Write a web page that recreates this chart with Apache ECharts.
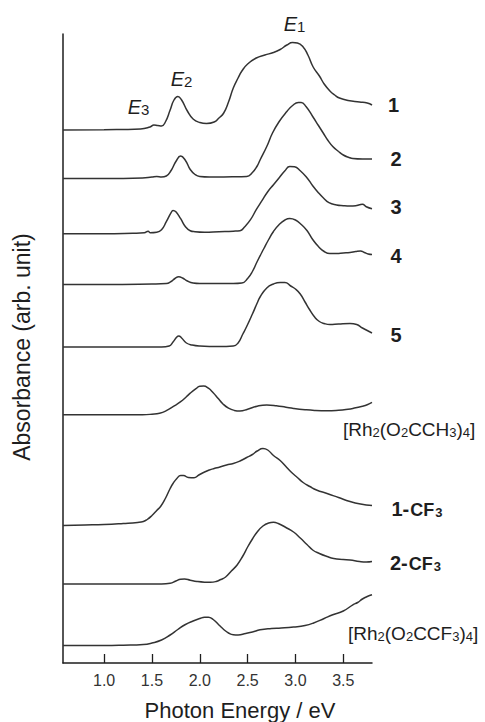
<!DOCTYPE html>
<html><head><meta charset="utf-8">
<script src="https://cdn.jsdelivr.net/npm/echarts@6/dist/echarts.min.js"></script>
<style>html,body{margin:0;padding:0;background:#fff}#c{width:485px;height:722px}</style>
</head><body><div id="c"></div>
<script>
// ---- data (energy in eV, absorbance in arbitrary units) ----
const energyTicks = [1.0, 1.5, 2.0, 2.5, 3.0, 3.5];
const spectrumNames = ['1', '2', '3', '4', '5', '[Rh2(O2CCH3)4]', '1-CF3', '2-CF3', '[Rh2(O2CCF3)4]'];
const spectrumOffsets = [533, 484.5, 429.3, 378.5, 316, 248.3, 137.5, 79, 17.5];

const s1 = [[0.57,0],[1.0,0.3],[1.38,1],[1.48,3],[1.52,5],[1.56,4.5],[1.6,4],[1.64,8],[1.69,20],[1.73,30],[1.77,33.5],[1.81,30],[1.87,19],[1.93,11],[2.0,7.5],[2.07,6.5],[2.15,8],[2.2,12],[2.25,17],[2.3,28],[2.35,42],[2.4,52],[2.44,59],[2.5,66],[2.59,72],[2.68,75],[2.77,77.5],[2.84,80.5],[2.91,85],[2.97,87.5],[3.02,87],[3.08,83],[3.13,75],[3.185,63],[3.25,54],[3.3,46],[3.36,39],[3.41,35],[3.46,32],[3.55,29.5],[3.67,28],[3.75,27],[3.8,25]];
const s2 = [[0.57,0],[1.0,0],[1.4,0.5],[1.5,1.5],[1.55,2],[1.6,1.5],[1.65,2.5],[1.7,8],[1.75,17],[1.8,22.5],[1.85,18],[1.9,9],[1.95,4],[2.0,2],[2.1,1.5],[2.25,1.5],[2.4,1.8],[2.49,2],[2.55,6],[2.6,12.5],[2.63,18.5],[2.7,32],[2.76,45.5],[2.83,57],[2.91,67],[2.97,73],[3.03,76],[3.06,76],[3.11,72],[3.18,62],[3.24,53],[3.29,45.5],[3.34,38],[3.39,32],[3.45,27],[3.5,23.5],[3.56,21],[3.6,20],[3.7,19.5],[3.8,19.5]];
const s3 = [[0.57,0],[1.0,0],[1.3,0.5],[1.42,1],[1.46,2.5],[1.48,1],[1.55,1.5],[1.6,4],[1.65,12],[1.7,21],[1.72,23.3],[1.75,22],[1.8,15],[1.85,7],[1.9,3],[1.95,2],[2.05,1.5],[2.2,2],[2.35,2.5],[2.42,3],[2.47,7],[2.53,14],[2.59,24],[2.65,33],[2.71,42],[2.77,49],[2.83,56],[2.89,63],[2.94,67.3],[2.99,67],[3.05,63],[3.12,56],[3.18,48],[3.24,41],[3.29,36],[3.35,31],[3.43,28.7],[3.5,28],[3.57,27.7],[3.63,28],[3.67,29],[3.7,29.5],[3.74,27],[3.8,25]];
const s4 = [[0.57,0],[1.0,0],[1.5,0.5],[1.65,1],[1.7,3],[1.74,6],[1.78,7.7],[1.82,6.5],[1.87,3.5],[1.93,1.5],[2.0,1],[2.2,1],[2.35,1],[2.44,1.5],[2.5,6],[2.55,13],[2.6,23],[2.67,36],[2.72,45],[2.77,53],[2.83,60],[2.89,64.5],[2.94,66],[3.0,64.5],[3.06,60],[3.12,54],[3.18,45],[3.24,38],[3.3,33],[3.36,31],[3.43,31],[3.5,31.5],[3.57,32],[3.63,33],[3.68,33.5],[3.72,32],[3.76,30.5],[3.8,30]];
const s5 = [[0.57,0],[1.0,0],[1.4,0],[1.6,0],[1.68,1],[1.72,5],[1.76,10],[1.78,11],[1.81,9],[1.86,4],[1.92,2],[2.0,1],[2.2,0.5],[2.35,1],[2.4,4],[2.45,13],[2.49,20.5],[2.55,33],[2.6,44],[2.63,50],[2.7,59],[2.77,63],[2.84,64.5],[2.89,64.5],[2.95,61],[3.0,58],[3.05,53],[3.1,45],[3.15,37],[3.2,30],[3.25,25.5],[3.3,23.5],[3.36,22.5],[3.45,23],[3.57,23.5],[3.64,22.5],[3.7,19],[3.75,16.5],[3.8,14]];
const s6 = [[0.57,0],[1.0,0],[1.4,0],[1.5,0.5],[1.58,1.5],[1.65,4],[1.72,8],[1.8,13],[1.86,18],[1.9,21.5],[1.96,26],[2.0,28.5],[2.04,28.7],[2.09,26.5],[2.14,22],[2.19,16.5],[2.24,11],[2.3,6.5],[2.36,4.3],[2.42,3.7],[2.5,5.5],[2.6,8.5],[2.7,9.7],[2.8,9],[2.9,7.5],[2.98,6.3],[3.1,5],[3.2,4.3],[3.33,4],[3.45,4.5],[3.55,5.5],[3.6,6.3],[3.7,8.5],[3.75,10],[3.8,12.3]];
const s7 = [[0.57,0],[0.8,0.5],[1.0,1],[1.2,2],[1.35,3],[1.41,4],[1.45,6],[1.5,10],[1.55,15],[1.59,19],[1.64,27],[1.69,37],[1.72,42],[1.76,47],[1.8,50],[1.83,50],[1.88,48],[1.94,47.8],[1.99,50.5],[2.05,53.5],[2.1,55.5],[2.15,57],[2.21,58.5],[2.28,60.5],[2.35,62],[2.42,64.5],[2.49,68],[2.55,71],[2.6,74.5],[2.66,77],[2.71,75.5],[2.77,70],[2.84,65],[2.9,59],[2.96,53],[3.02,48],[3.08,43],[3.15,39],[3.22,35.5],[3.33,32],[3.45,28],[3.57,24],[3.68,21.5],[3.8,20]];
const s8 = [[0.57,0],[1.0,0],[1.6,0],[1.69,0.7],[1.75,3],[1.8,4.8],[1.84,5],[1.9,3.8],[1.97,2.5],[2.05,1.8],[2.11,1.7],[2.17,2.5],[2.22,4.5],[2.27,7],[2.33,13],[2.39,19],[2.45,28],[2.5,37],[2.55,45],[2.6,52],[2.66,58],[2.72,61],[2.77,61.7],[2.82,60.5],[2.9,56.5],[2.98,52],[3.05,46],[3.12,39.5],[3.18,34],[3.25,30.5],[3.33,27.5],[3.4,25.5],[3.5,24.5],[3.57,24],[3.67,22.5],[3.74,22],[3.8,22.5]];
const s9 = [[0.57,0],[1.0,0],[1.2,0.3],[1.41,1],[1.5,2.5],[1.6,5.5],[1.69,10.5],[1.77,16],[1.85,21],[1.93,24.5],[2.0,27],[2.05,28.3],[2.09,28.3],[2.14,26],[2.2,20.5],[2.25,16],[2.3,12.5],[2.35,10.7],[2.4,10.5],[2.48,12],[2.55,13.5],[2.63,15.7],[2.75,17],[2.85,17.5],[2.98,18.5],[3.1,20],[3.19,22.5],[3.3,27],[3.39,30.7],[3.5,34.5],[3.6,40.7],[3.65,43],[3.7,46.5],[3.75,49],[3.8,50.7]];

const peakNames = ['E1', 'E2', 'E3'];
const peakEnergies = [2.99, 1.81, 1.36];
const peakHeights = [640, 585, 557];

// ---- layout / style ----
const spectra = [s1, s2, s3, s4, s5, s6, s7, s8, s9];
const labelShift = [[16,-0.7],[18.5,-1],[18.5,-3],[18.5,0],[18.5,1],[-29,26],[19.5,2.8],[18,0.3],[-24,36.7]];
const FONT = 'Liberation Sans, Arial, sans-serif';
const INK = '#1e1e1e';

function richName(name) {
  if (name[0] === '[') {
    return name.match(/\d+|\D+/g).map(t => /\d/.test(t) ? '{u|' + t + '}' : '{r|' + t + '}').join('');
  }
  const m = name.match(/^(\d+-?)(.*)$/);
  let out = '{b|' + m[1] + '}';
  if (m[2]) out += m[2].match(/\d+|\D+/g).map(t => /\d/.test(t) ? '{s|' + t + '}' : '{m|' + t + '}').join('');
  return out;
}
const nameRich = {
  b: {fontFamily: FONT, fontSize: 20, fontWeight: 'bold', fill: INK, color: INK, lineHeight: 22, verticalAlign: 'bottom'},
  m: {fontFamily: FONT, fontSize: 18, fontWeight: 'bold', fill: INK, color: INK, lineHeight: 21, verticalAlign: 'bottom', padding: [0, 0, 0, 1]},
  s: {fontFamily: FONT, fontSize: 13, fontWeight: 'bold', fill: INK, color: INK, lineHeight: 16, verticalAlign: 'bottom', padding: [0, 0, 0, 1]},
  r: {fontFamily: FONT, fontSize: 19, fill: INK, color: INK, lineHeight: 22, verticalAlign: 'bottom'},
  u: {fontFamily: FONT, fontSize: 13, fill: INK, color: INK, lineHeight: 17, verticalAlign: 'bottom'}
};
const peakRich = {
  e: {fontFamily: FONT, fontSize: 20, fontStyle: 'italic', fill: INK, color: INK, lineHeight: 22, verticalAlign: 'bottom'},
  d: {fontFamily: FONT, fontSize: 15, fill: INK, color: INK, lineHeight: 18, verticalAlign: 'bottom'}
};

const chart = echarts.init(document.getElementById('c'), null, {renderer: 'svg'});
const option = {
  animation: false,
  backgroundColor: '#fff',
  grid: {left: 63, right: 113, top: 34, bottom: 59, containLabel: false},
  xAxis: {
    type: 'value', min: 0.57, max: 3.8,
    axisLine: {onZero: false, lineStyle: {color: INK, width: 1.5}},
    axisTick: {inside: true, length: 9, customValues: energyTicks, lineStyle: {color: INK, width: 1.3}},
    axisLabel: {customValues: energyTicks, formatter: v => v.toFixed(1), fontFamily: FONT, fontSize: 16, color: '#333', margin: 9},
    splitLine: {show: false}
  },
  yAxis: {
    type: 'value', min: 0, max: 629,
    axisLine: {show: true, onZero: false, lineStyle: {color: INK, width: 1.5}},
    axisTick: {show: false}, axisLabel: {show: false}, splitLine: {show: false}
  },
  series: spectra.map((s, i) => ({
    type: 'line', name: spectrumNames[i], silent: true,
    showSymbol: false, symbol: 'none', smooth: 0.5,
    lineStyle: {color: '#333', width: 1.5},
    data: s.map(p => [p[0], p[1] + spectrumOffsets[i]])
  }))
};
chart.setOption(option);

const g = [];
spectra.forEach((s, i) => {
  const last = s[s.length - 1];
  const pt = chart.convertToPixel({gridIndex: 0}, [last[0], last[1] + spectrumOffsets[i]]);
  g.push({type: 'text', x: pt[0] + labelShift[i][0], y: pt[1] + labelShift[i][1],
    style: {text: richName(spectrumNames[i]), rich: nameRich, align: 'left', verticalAlign: 'middle'}});
});
peakNames.forEach((n, i) => {
  const pt = chart.convertToPixel({gridIndex: 0}, [peakEnergies[i], peakHeights[i]]);
  g.push({type: 'text', x: pt[0], y: pt[1],
    style: {text: '{e|' + n[0] + '}{d|' + n.slice(1) + '}', rich: peakRich, align: 'center', verticalAlign: 'middle'}});
});
g.push({type: 'text', x: 240, y: 710,
  style: {text: 'Photon Energy / eV', fontFamily: FONT, fontSize: 22, fill: INK, align: 'center', verticalAlign: 'middle'}});
g.push({type: 'text', x: 22, y: 347, rotation: Math.PI / 2,
  style: {text: 'Absorbance (arb. unit)', fontFamily: FONT, fontSize: 23, fill: INK, align: 'center', verticalAlign: 'middle'}});
chart.setOption({graphic: g});
</script>
</body></html>
